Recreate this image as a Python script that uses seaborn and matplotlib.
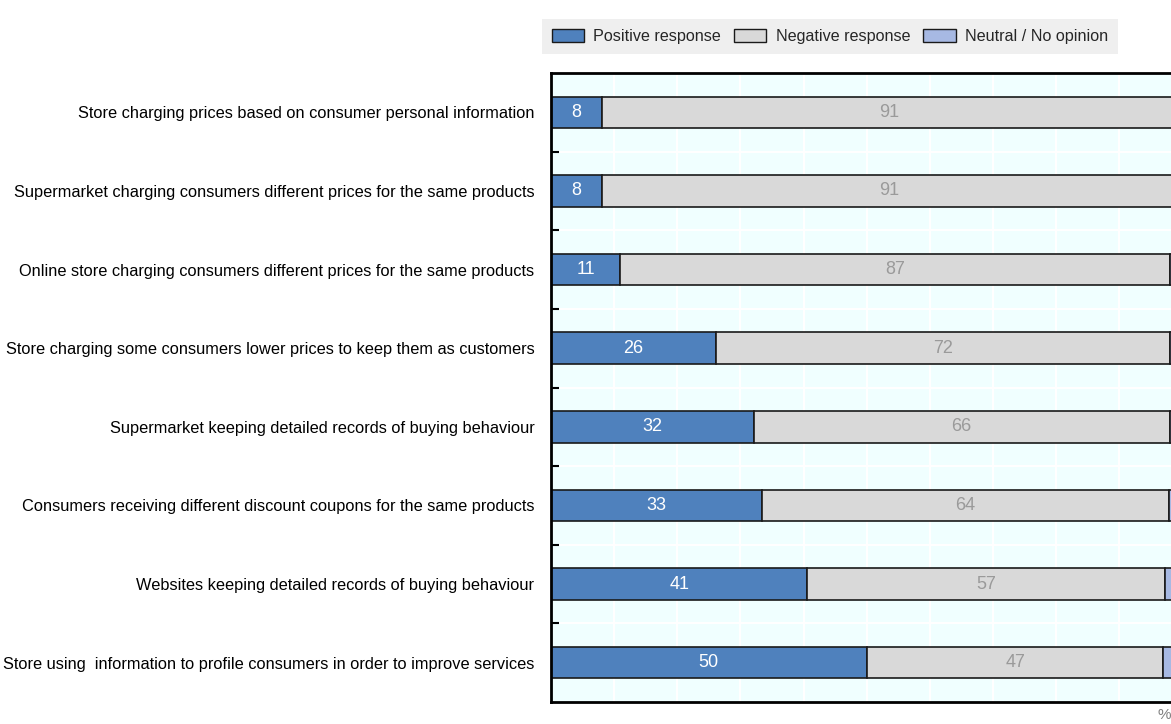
import numpy as np
import pandas as pd
import matplotlib
matplotlib.use("Agg")
import matplotlib.pyplot as plt
from matplotlib.patches import Patch
import seaborn as sns

# survey items, top to bottom
categories = [
    "Store charging prices based on consumer personal information",
    "Supermarket charging consumers different prices for the same products",
    "Online store charging consumers different prices for the same products",
    "Store charging some consumers lower prices to keep them as customers",
    "Supermarket keeping detailed records of buying behaviour",
    "Consumers receiving different discount coupons for the same products",
    "Websites keeping detailed records of buying behaviour",
    "Store using  information to profile consumers in order to improve services",
]
positive = [8.1, 8.1, 11.0, 26.1, 32.1, 33.4, 40.6, 50.0]
negative = [91.0, 91.0, 87.0, 71.9, 65.9, 64.4, 56.6, 47.0]
neutral = [0.9, 0.9, 2.0, 2.0, 2.0, 2.2, 2.8, 3.0]

series_names = ["Positive response", "Negative response", "Neutral / No opinion"]
colors = ["#4f81bd", "#d9d9d9", "#a7b9e3"]

fonts = ["Liberation Sans Narrow", "Liberation Sans", "DejaVu Sans"]
sns.set_style("white")
plt.rcParams["font.family"] = fonts

df = pd.DataFrame({"item": categories, "pos": positive, "neg": negative, "neu": neutral})
df["left_neg"] = df["pos"]
df["left_neu"] = df["pos"] + df["neg"]

fig = plt.figure(figsize=(11.71, 7.24), dpi=100)
ax = fig.add_axes([551 / 1171, 1 - 702 / 724, 631.4 / 1171, 629 / 724])
ax.set_facecolor("#f0ffff")

bw = 0.4
sns.barplot(data=df, x="pos", y="item", order=categories, color=colors[0],
            width=bw, saturation=1, edgecolor="#1a1a1a", linewidth=1.2, ax=ax)
sns.barplot(data=df, x="neg", y="item", order=categories, color=colors[1],
            width=bw, saturation=1, edgecolor="#1a1a1a", linewidth=1.2,
            left=df["left_neg"].values, ax=ax)
sns.barplot(data=df, x="neu", y="item", order=categories, color=colors[2],
            width=bw, saturation=1, edgecolor="#1a1a1a", linewidth=1.2,
            left=df["left_neu"].values, ax=ax)

# value labels
c_pos, c_neg = ax.containers[0], ax.containers[1]
ax.bar_label(c_pos, labels=[f"{v:.0f}" for v in positive], label_type="center",
             color="white", fontsize=13)
ax.bar_label(c_neg, labels=[f"{v:.0f}" for v in negative], label_type="center",
             color="#9a9a9a", fontsize=13)

ax.set_xlim(0, 100)
ax.set_ylim(len(categories) - 0.5, -0.5)
ax.set_xlabel("")
ax.set_ylabel("")

ax.set_xticks(np.arange(0, 101, 10))
ax.set_xticklabels([])
ax.tick_params(axis="x", length=0)
ax.set_yticks(np.arange(0.5, len(categories) - 0.5, 1), minor=True)
ax.tick_params(axis="y", which="major", left=False, length=0, pad=12, labelsize=11.8,
               labelcolor="black")
ax.tick_params(axis="y", which="minor", left=True, direction="in", length=6, width=1.5,
               color="black")
ax.grid(True, axis="x", which="major", color="white", linewidth=1.5)
ax.grid(True, axis="y", which="minor", color="white", linewidth=1.5)
ax.set_axisbelow(True)

for side in ["left", "top", "bottom"]:
    ax.spines[side].set_visible(True)
    ax.spines[side].set_color("black")
    ax.spines[side].set_linewidth(2)
ax.spines["right"].set_visible(False)

handles = [Patch(facecolor=c, edgecolor="#1a1a1a", linewidth=1) for c in colors]
leg = fig.legend(handles, series_names, loc="center", ncol=3,
                 bbox_to_anchor=(830 / 1171, 1 - 36.5 / 724),
                 frameon=True, facecolor="#efefef", edgecolor="none", fancybox=False,
                 fontsize=11.6, handlelength=2.0, handleheight=0.9,
                 handletextpad=0.6, columnspacing=0.8, borderpad=0.6)
leg.get_frame().set_alpha(1)

fig.text(1157 / 1171, 1 - 715 / 724, "%", color="#7f7f7f", fontsize=11, va="center")

fig.savefig("out.png", dpi=100)
